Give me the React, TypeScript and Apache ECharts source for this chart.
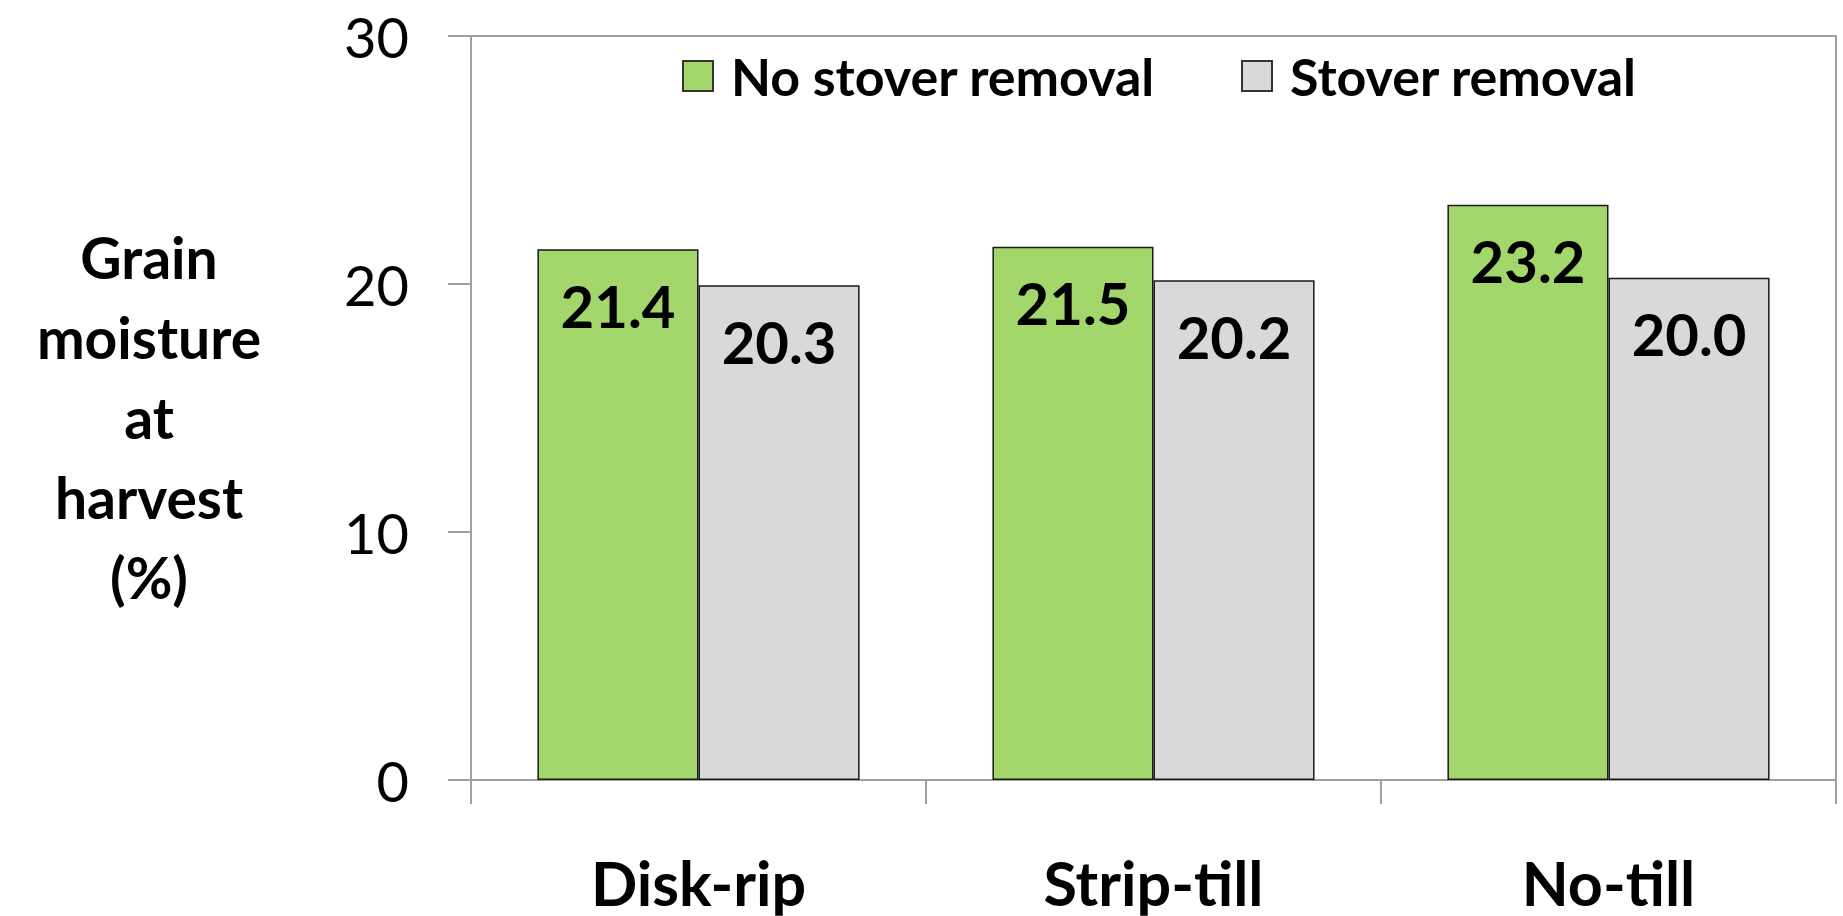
import React, { useEffect, useRef } from "react";
import * as echarts from "echarts";

const categories = ["Disk-rip", "Strip-till", "No-till"];
const seriesNames = ["No stover removal", "Stover removal"];
const noRemovalValues = [21.4, 21.5, 23.2];
const removalValues = [19.95, 20.15, 20.25];
const noRemovalLabels = ["21.4", "21.5", "23.2"];
const removalLabels = ["20.3", "20.2", "20.0"];
const yTicks = [0, 10, 20, 30];
const yTitleLines = ["Grain", "moisture", "at", "harvest", "(%)"];

const GREEN = "#a3d66b";
const GRAY = "#d9d9d9";
const AXIS = "#a0a0a0";
const FONT = "Lato, 'Open Sans', sans-serif";

export default function App() {
  const ref = useRef<HTMLDivElement>(null);
  useEffect(() => {
    document.body.style.margin = "0";
    const chart = echarts.init(ref.current!, null, { renderer: "svg" });
    const labelStyle = {
      show: true,
      position: "insideTop" as const,
      distance: 27,
      fontFamily: FONT,
      fontSize: 58,
      fontWeight: "bold" as const,
      color: "#000",
    };
    const legendBase = {
      orient: "horizontal" as const,
      top: 50,
      padding: 0,
      itemWidth: 30,
      itemHeight: 30,
      icon: "rect",
      textStyle: {
        fontFamily: FONT,
        fontSize: 52,
        fontWeight: "bold" as const,
        color: "#000",
        padding: [0, 0, 0, 13],
      },
      itemStyle: { borderColor: "#333", borderWidth: 2 },
    };
    chart.setOption({
      animation: false,
      backgroundColor: "#fff",
      grid: {
        left: 471,
        right: 7,
        top: 36,
        bottom: 136,
        show: true,
        borderColor: AXIS,
        borderWidth: 2,
      },
      legend: [
        { ...legendBase, left: 682, data: [seriesNames[0]] },
        { ...legendBase, left: 1241, data: [seriesNames[1]] },
      ],
      graphic: [
        {
          type: "text",
          x: 149,
          y: 217,
          style: {
            text: yTitleLines.join("\n"),
            fontFamily: FONT,
            fontSize: 57,
            fontWeight: "bold",
            lineHeight: 80,
            fill: "#000",
            align: "center",
            textAlign: "center",
            verticalAlign: "top",
          },
        },
      ],
      xAxis: {
        type: "category",
        data: categories,
        axisLine: { show: true, lineStyle: { color: AXIS, width: 2 } },
        axisTick: {
          show: true,
          length: 24,
          interval: 0,
          alignWithLabel: false,
          lineStyle: { color: AXIS, width: 2 },
        },
        axisLabel: {
          margin: 72,
          fontFamily: FONT,
          fontSize: 61,
          fontWeight: "bold",
          color: "#000",
        },
      },
      yAxis: {
        type: "value",
        min: 0,
        max: 30,
        interval: 10,
        splitLine: { show: false },
        axisLine: { show: true, lineStyle: { color: AXIS, width: 2 } },
        axisTick: { show: true, length: 23, lineStyle: { color: AXIS, width: 2 } },
        axisLabel: {
          margin: 62,
          fontFamily: FONT,
          fontSize: 56,
          color: "#000",
          formatter: (v: number) => (yTicks.includes(v) ? String(v) : ""),
        },
      },
      series: [
        {
          name: seriesNames[0],
          type: "bar",
          data: noRemovalValues,
          barGap: "0%",
          barCategoryGap: "29.2%",
          itemStyle: { color: GREEN, borderColor: "#1a1a1a", borderWidth: 1.5 },
          label: { ...labelStyle, formatter: (p: any) => noRemovalLabels[p.dataIndex] },
        },
        {
          name: seriesNames[1],
          type: "bar",
          data: removalValues,
          barGap: "0%",
          barCategoryGap: "29.2%",
          itemStyle: { color: GRAY, borderColor: "#1a1a1a", borderWidth: 1.5 },
          label: { ...labelStyle, formatter: (p: any) => removalLabels[p.dataIndex] },
        },
      ],
    });
    return () => chart.dispose();
  }, []);
  return <div ref={ref} style={{ width: 1843, height: 916 }} />;
}
